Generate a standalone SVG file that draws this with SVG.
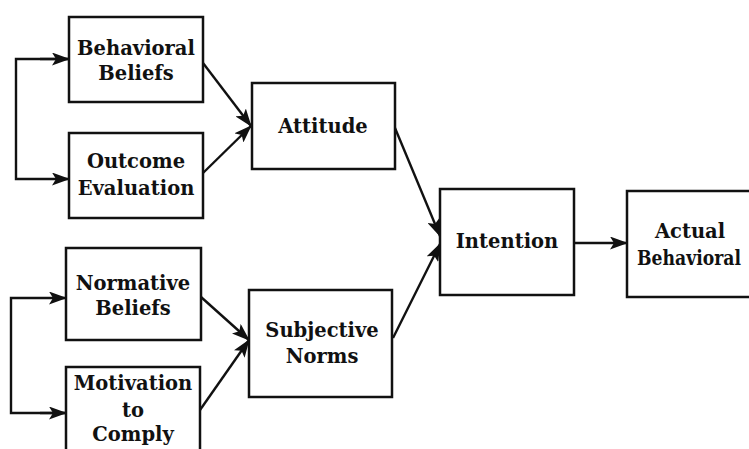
<svg xmlns="http://www.w3.org/2000/svg" width="749" height="449" viewBox="0 0 749 449">
<style>
.box{fill:#fff;stroke:#111;stroke-width:2.5}
.t{font-family:"DejaVu Serif","Liberation Serif",serif;font-weight:bold;font-size:19.5px;fill:#111;text-anchor:middle}
.c{fill:none;stroke:#111;stroke-width:2.4}
</style>
<defs>
<marker id="ah" markerUnits="userSpaceOnUse" markerWidth="18" markerHeight="13" refX="17" refY="6.5" orient="auto">
<path d="M0,0 L18,6.5 L0,13 L4,6.5 Z" fill="#111"/>
</marker>
</defs>
<rect width="749" height="449" fill="#fff"/>
<g id="connectors">
<path class="c" d="M69,59 H16 V179 H69" marker-end="url(#ah)"/>
<path class="c" d="M40,59 H69" marker-end="url(#ah)"/>
<path class="c" d="M203,63 L251,126" marker-end="url(#ah)"/>
<path class="c" d="M203,173 L251,126" marker-end="url(#ah)"/>
<path class="c" d="M66,413 H11 V298 H66" marker-end="url(#ah)"/>
<path class="c" d="M40,413 H66" marker-end="url(#ah)"/>
<path class="c" d="M201,297 L249,340" marker-end="url(#ah)"/>
<path class="c" d="M200,410 L249,340" marker-end="url(#ah)"/>
<path class="c" d="M395,128 L440,236" marker-end="url(#ah)"/>
<path class="c" d="M393,338 L440,244" marker-end="url(#ah)"/>
<path class="c" d="M574,243 L627,243" marker-end="url(#ah)"/>
</g>
<g id="behavioral-beliefs">
<rect class="box" x="69" y="17" width="134" height="85"/>
<text class="t" x="136" y="55">Behavioral</text>
<text class="t" x="136" y="80">Beliefs</text>
</g>
<g id="outcome-evaluation">
<rect class="box" x="69" y="133" width="134" height="85"/>
<text class="t" x="136" y="168">Outcome</text>
<text class="t" x="136" y="195">Evaluation</text>
</g>
<g id="attitude">
<rect class="box" x="252" y="83" width="143" height="86"/>
<text class="t" x="323" y="133">Attitude</text>
</g>
<g id="normative-beliefs">
<rect class="box" x="66" y="248" width="135" height="92"/>
<text class="t" x="133" y="290">Normative</text>
<text class="t" x="133" y="315">Beliefs</text>
</g>
<g id="motivation-to-comply">
<rect class="box" x="66" y="367" width="134" height="100"/>
<text class="t" x="133" y="390">Motivation</text>
<text class="t" x="133" y="417">to</text>
<text class="t" x="133" y="441">Comply</text>
</g>
<g id="subjective-norms">
<rect class="box" x="249" y="290" width="143" height="107"/>
<text class="t" x="322" y="337">Subjective</text>
<text class="t" x="322" y="363">Norms</text>
</g>
<g id="intention">
<rect class="box" x="440" y="189" width="134" height="106"/>
<text class="t" x="507" y="248">Intention</text>
</g>
<g id="actual-behavioral">
<rect class="box" x="627" y="191" width="140" height="106"/>
<text class="t" x="690" y="238">Actual</text>
<text class="t" x="637" y="265" style="text-anchor:start" textLength="104" lengthAdjust="spacingAndGlyphs">Behavioral</text>
</g>
</svg>
